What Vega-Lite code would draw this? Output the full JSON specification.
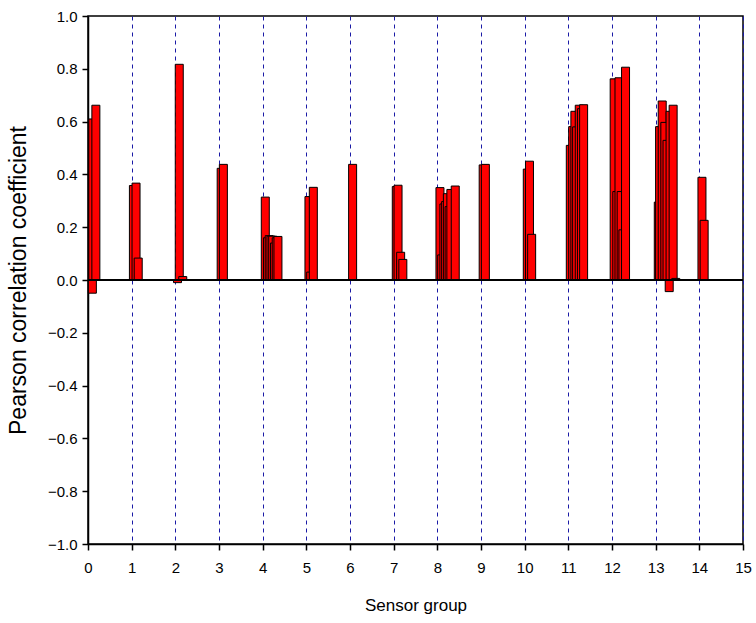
{
  "$schema": "https://vega.github.io/schema/vega-lite/v6.json",
  "autosize": "none",
  "width": 655,
  "height": 528,
  "padding": {"left": 88, "top": 16, "right": 13, "bottom": 79},
  "background": "white",
  "config": {
    "view": {"stroke": "black", "strokeWidth": 1.5},
    "font": "Liberation Sans",
    "axis": {
      "labelFont": "Liberation Sans",
      "titleFont": "Liberation Sans",
      "labelColor": "black",
      "titleColor": "black",
      "domainColor": "black",
      "tickColor": "black",
      "labelFontSize": 15,
      "titleFontWeight": "normal",
      "domainWidth": 1.5,
      "tickWidth": 1.5
    }
  },
  "data": {
    "values": [
      {"x": 0.11, "r": 0.61},
      {"x": 0.10, "r": -0.05},
      {"x": 0.18, "r": 0.662},
      {"x": 1.04, "r": 0.358},
      {"x": 1.10, "r": 0.367},
      {"x": 1.15, "r": 0.083},
      {"x": 2.05, "r": -0.01},
      {"x": 2.09, "r": 0.817},
      {"x": 2.17, "r": 0.013},
      {"x": 3.05, "r": 0.423},
      {"x": 3.10, "r": 0.438},
      {"x": 4.06, "r": 0.314},
      {"x": 4.11, "r": 0.160},
      {"x": 4.15, "r": 0.168},
      {"x": 4.19, "r": 0.166},
      {"x": 4.23, "r": 0.166},
      {"x": 4.27, "r": 0.14},
      {"x": 4.31, "r": 0.160},
      {"x": 4.35, "r": 0.165},
      {"x": 5.06, "r": 0.316},
      {"x": 5.10, "r": 0.03},
      {"x": 5.16, "r": 0.351},
      {"x": 6.06, "r": 0.438},
      {"x": 7.06, "r": 0.354},
      {"x": 7.10, "r": 0.359},
      {"x": 7.16, "r": 0.105},
      {"x": 7.21, "r": 0.078},
      {"x": 8.06, "r": 0.35},
      {"x": 8.10, "r": 0.095},
      {"x": 8.15, "r": 0.288},
      {"x": 8.19, "r": 0.297},
      {"x": 8.23, "r": 0.327},
      {"x": 8.27, "r": 0.278},
      {"x": 8.31, "r": 0.343},
      {"x": 8.41, "r": 0.356},
      {"x": 9.05, "r": 0.436},
      {"x": 9.10, "r": 0.438},
      {"x": 10.06, "r": 0.42},
      {"x": 10.11, "r": 0.45},
      {"x": 10.16, "r": 0.173},
      {"x": 11.045, "r": 0.51},
      {"x": 11.10, "r": 0.581},
      {"x": 11.15, "r": 0.639},
      {"x": 11.19, "r": 0.58},
      {"x": 11.25, "r": 0.662},
      {"x": 11.30, "r": 0.649},
      {"x": 11.35, "r": 0.664},
      {"x": 12.05, "r": 0.762},
      {"x": 12.11, "r": 0.335},
      {"x": 12.16, "r": 0.766},
      {"x": 12.21, "r": 0.335},
      {"x": 12.25, "r": 0.19},
      {"x": 12.31, "r": 0.806},
      {"x": 13.06, "r": 0.295},
      {"x": 13.09, "r": 0.581},
      {"x": 13.15, "r": 0.678},
      {"x": 13.21, "r": 0.597},
      {"x": 13.26, "r": 0.529},
      {"x": 13.31, "r": -0.044},
      {"x": 13.33, "r": 0.639},
      {"x": 13.40, "r": 0.662},
      {"x": 13.46, "r": 0.006},
      {"x": 14.06, "r": 0.389},
      {"x": 14.11, "r": 0.226}
    ]
  },
  "layer": [
    {
      "mark": {"type": "bar", "fill": "#FF0000", "stroke": "black", "strokeWidth": 1, "width": 8, "orient": "vertical"},
      "encoding": {
        "x": {
          "field": "x", "type": "quantitative",
          "scale": {"domain": [0, 15], "nice": false, "zero": false, "padding": 0},
          "axis": {
            "title": "Sensor group",
            "titleFontSize": 17,
            "values": [0,1,2,3,4,5,6,7,8,9,10,11,12,13,14,15],
            "format": "d",
            "grid": true,
            "gridColor": "#1a1aa6",
            "gridDash": [4, 4],
            "gridWidth": 1,
            "tickSize": 6,
            "labelPadding": 10,
            "titlePadding": 22,
            "labelFlush": false
          }
        },
        "y": {
          "field": "r", "type": "quantitative",
          "scale": {"domain": [-1, 1], "nice": false, "padding": 0},
          "axis": {
            "title": "Pearson correlation coefficient",
            "titleFontSize": 23,
            "values": [-1, -0.9, -0.8, -0.7, -0.6, -0.5, -0.4, -0.3, -0.2, -0.1, 0, 0.1, 0.2, 0.3, 0.4, 0.5, 0.6, 0.7, 0.8, 0.9, 1],
            "labelExpr": "abs(round(datum.value*10)) % 2 == 0 ? format(datum.value, '.1f') : ''",
            "grid": false,
            "tickSize": 6,
            "labelPadding": 5,
            "titlePadding": 17,
            "labelFlush": false,
            "encode": {
              "ticks": {
                "update": {
                  "x2": {"signal": "abs(round(datum.value*10)) % 2 == 0 ? -6 : -3"}
                }
              }
            }
          }
        }
      }
    },
    {
      "mark": {"type": "rule", "color": "black", "strokeWidth": 2},
      "encoding": {
        "y": {"datum": 0, "type": "quantitative"}
      }
    }
  ]
}
